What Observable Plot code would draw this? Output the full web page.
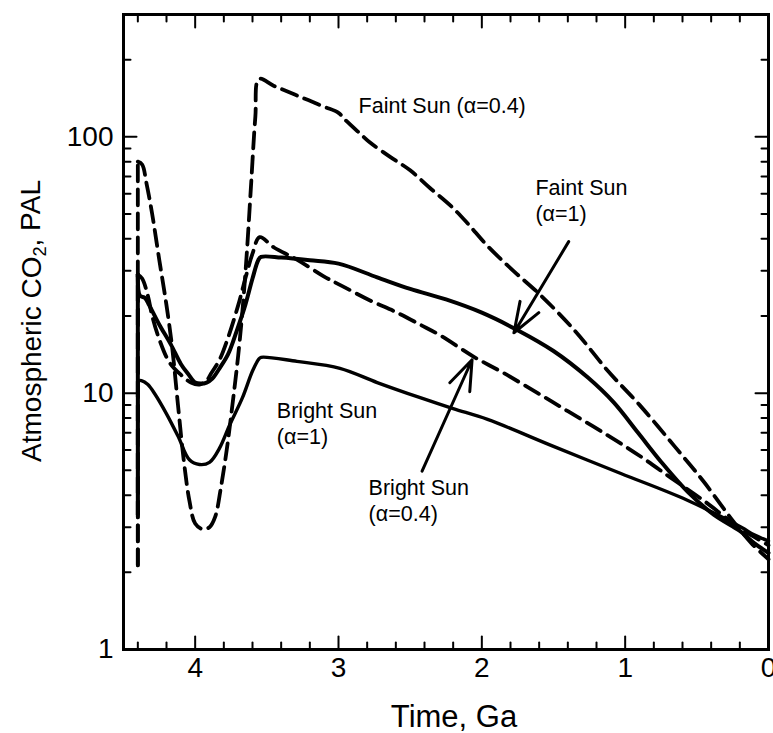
<!DOCTYPE html>
<html><head><meta charset="utf-8">
<script src="https://cdn.jsdelivr.net/npm/d3@7"></script>
<script src="https://cdn.jsdelivr.net/npm/@observablehq/plot@0.6"></script>
<style>html,body{margin:0;padding:0;background:#fff}</style>
</head><body><div id="chart"></div>
<script>
// ---- Series (time in Ga, CO2 in PAL); first point = foot of the initial vertical jump ----
const faint04_t = [4.40,4.40,4.37,4.34,4.30,4.25,4.20,4.16,4.12,4.08,4.04,4.00,3.95,3.90,3.86,3.82,3.78,3.74,3.70,3.67,3.64,3.61,3.58,3.555,3.45,3.29,3.10,3.00,2.95,2.85,2.78,2.64,2.50,2.36,2.22,2.10,1.96,1.78,1.59,1.35,1.12,0.90,0.655,0.45,0.24,0.12,0.0];
const faint04_v = [2.13,80,78,66,50,33,22,15,9,5.5,3.8,3.1,2.95,3.0,3.3,4.3,6.0,9.0,14,21,35,65,120,168,158,145,131,124,116,103,95,83.5,74,63,54,46,37.5,30,24.1,17.5,12.2,9.0,6.2,4.5,3.13,2.6,2.25];

const bright04_t = [4.40,4.40,4.37,4.33,4.30,4.25,4.18,4.10,4.03,3.97,3.92,3.89,3.83,3.77,3.70,3.65,3.60,3.55,3.45,3.29,3.10,2.97,2.78,2.59,2.43,2.29,2.05,1.85,1.61,1.40,1.15,0.90,0.68,0.45,0.21,0.10,0.0];
const bright04_v = [2.13,29,28,24,20,16.2,13.2,11.8,11.0,10.8,11.2,11.9,13.5,16.5,22,28,35,40.6,37,33.2,28.5,26.1,23,20.6,18.5,16.8,13.8,12,10,8.5,7.0,5.7,4.67,3.8,3.0,2.75,2.55];

const faint1_t = [4.40,4.40,4.385,4.35,4.32,4.25,4.17,4.10,4.05,4.00,3.96,3.92,3.88,3.83,3.77,3.71,3.65,3.60,3.56,3.54,3.40,3.20,3.00,2.73,2.50,2.25,2.00,1.75,1.50,1.26,1.08,0.91,0.75,0.56,0.38,0.20,0.10,0.0];
const faint1_v = [3.37,29,24,23.5,22,18.5,15.5,13,11.9,11.0,10.9,11.0,11.4,12.5,14.2,17.5,22.1,28,33,34,33.8,33,32,28.3,25.5,23.2,20.6,17.6,14.6,11.5,9.2,7.0,5.4,4.1,3.35,2.9,2.6,2.38];

const bright1_t = [4.40,4.40,4.375,4.33,4.28,4.20,4.12,4.04,3.97,3.90,3.83,3.76,3.67,3.60,3.555,3.54,3.29,2.99,2.73,2.43,2.20,1.96,1.50,1.03,0.57,0.19,0.10,0.0];
const bright1_v = [3.37,11.2,11.2,10.8,9.9,8.3,6.8,5.5,5.27,5.37,6.1,7.5,9.6,12.2,13.6,13.8,13.3,12.5,11.0,9.6,8.7,7.9,6.2,4.86,3.83,3.0,2.8,2.65];

// ---- Axis ticks ----
const xMajor = [0, 1, 2, 3, 4];
const xMinor = [0.2,0.4,0.6,0.8,1.2,1.4,1.6,1.8,2.2,2.4,2.6,2.8,3.2,3.4,3.6,3.8,4.2,4.4];
const yMajor = [1, 10, 100];
const yMinor = [2,3,4,5,6,7,8,9,20,30,40,50,60,70,80,90,200];

// ---- Annotations ----
const labelText = ["Faint Sun (\u03b1=0.4)", "Faint Sun", "(\u03b1=1)", "Bright Sun", "(\u03b1=1)", "Bright Sun", "(\u03b1=0.4)"];
const labelT    = [2.86, 1.626, 1.626, 3.43, 3.43, 2.79, 2.79];
const labelV    = [132, 63, 50.0, 8.5, 6.75, 4.25, 3.36];

const arrowT1 = [1.394, 2.417];
const arrowV1 = [39, 4.96];
const arrowT2 = [1.776, 2.068];
const arrowV2 = [17.2, 13.5];

// ---- Build tables ----
const toRows = (ts, vs) => ts.map((t, i) => ({t, v: vs[i]}));
const faint04 = toRows(faint04_t, faint04_v);
const bright04 = toRows(bright04_t, bright04_v);
const faint1 = toRows(faint1_t, faint1_v);
const bright1 = toRows(bright1_t, bright1_v);
const labels = labelText.map((s, i) => ({s, t: labelT[i], v: labelV[i]}));
const arrows = arrowT1.map((t, i) => ({t1: t, v1: arrowV1[i], t2: arrowT2[i], v2: arrowV2[i]}));

// a series = its initial vertical jump (straight) + the smooth body
function series(rows, opts) {
  return [
    Plot.line(rows.slice(0, 2), {x: "t", y: "v", stroke: "black", ...opts}),
    Plot.line(rows.slice(1), {x: "t", y: "v", stroke: "black", curve: "catmull-rom", strokeLinejoin: "round", ...opts})
  ];
}

const tickShape = {draw(context, l) { context.moveTo(0, 0); context.lineTo(0, -l); }};
function ticks(data, k, anchor, len) {
  const rotate = {bottom: 0, top: 180, left: 90, right: -90}[anchor];
  return Plot.vector(data, {[k]: d => d, frameAnchor: anchor, length: len, rotate, anchor: "start",
    shape: tickShape, strokeWidth: 2, stroke: "black"});
}

const dash = "16,8";
const chart = Plot.plot({
  width: 773,
  height: 733,
  marginLeft: 123,
  marginRight: 5,
  marginTop: 14,
  marginBottom: 84,
  style: {fontFamily: "'Liberation Sans', Arial, Helvetica, sans-serif", background: "white", color: "black", overflow: "visible"},
  x: {type: "linear", domain: [4.5, 0]},
  y: {type: "log", domain: [1, 300]},
  marks: [
    ...series(faint04, {strokeWidth: 3.8, strokeDasharray: dash}),
    ...series(bright04, {strokeWidth: 3.8, strokeDasharray: dash}),
    ...series(faint1, {strokeWidth: 4}),
    ...series(bright1, {strokeWidth: 3.4}),
    Plot.arrow(arrows, {x1: "t1", y1: "v1", x2: "t2", y2: "v2", stroke: "black", strokeWidth: 3, headLength: 16, headAngle: 40}),
    Plot.text(labels, {x: "t", y: "v", text: "s", textAnchor: "start", lineAnchor: "middle", fontSize: 21.5, fill: "black"}),
    ticks(xMajor, "x", "bottom", 13), ticks(xMinor, "x", "bottom", 7),
    ticks(xMajor, "x", "top", 13), ticks(xMinor, "x", "top", 7),
    ticks(yMajor, "y", "left", 13), ticks(yMinor, "y", "left", 7),
    ticks(yMajor, "y", "right", 13), ticks(yMinor, "y", "right", 7),
    Plot.frame({stroke: "black", strokeWidth: 3}),
    Plot.axisX({ticks: xMajor, tickFormat: d => String(d), tickSize: 0, tickPadding: 8, fontSize: 28, label: null}),
    Plot.axisY({ticks: yMajor, tickFormat: d => String(d), tickSize: 0, tickPadding: 10, fontSize: 28, label: null}),
    Plot.text([0], {frameAnchor: "bottom", text: () => "Time, Ga", dy: 77, dx: 8, lineAnchor: "bottom", fontSize: 31, fill: "black"}),
    Plot.text([0], {frameAnchor: "left", text: () => "Atmospheric CO2, PAL", rotate: -90, dx: -83, dy: -11, textAnchor: "middle", lineAnchor: "bottom", fontSize: 28, fill: "black"})
  ]
});
document.getElementById("chart").appendChild(chart);

// subscript the 2 in CO2
for (const t of chart.querySelectorAll("text")) {
  if (t.textContent === "Atmospheric CO2, PAL") {
    t.textContent = "";
    const ns = "http://www.w3.org/2000/svg";
    const a = document.createElementNS(ns, "tspan"); a.textContent = "Atmospheric CO";
    const b = document.createElementNS(ns, "tspan"); b.textContent = "2"; b.setAttribute("dy", "0.3em"); b.setAttribute("font-size", "0.65em");
    const c = document.createElementNS(ns, "tspan"); c.textContent = ", PAL"; c.setAttribute("dy", "-0.2em");
    t.append(a, b, c);
  }
}
</script></body></html>
